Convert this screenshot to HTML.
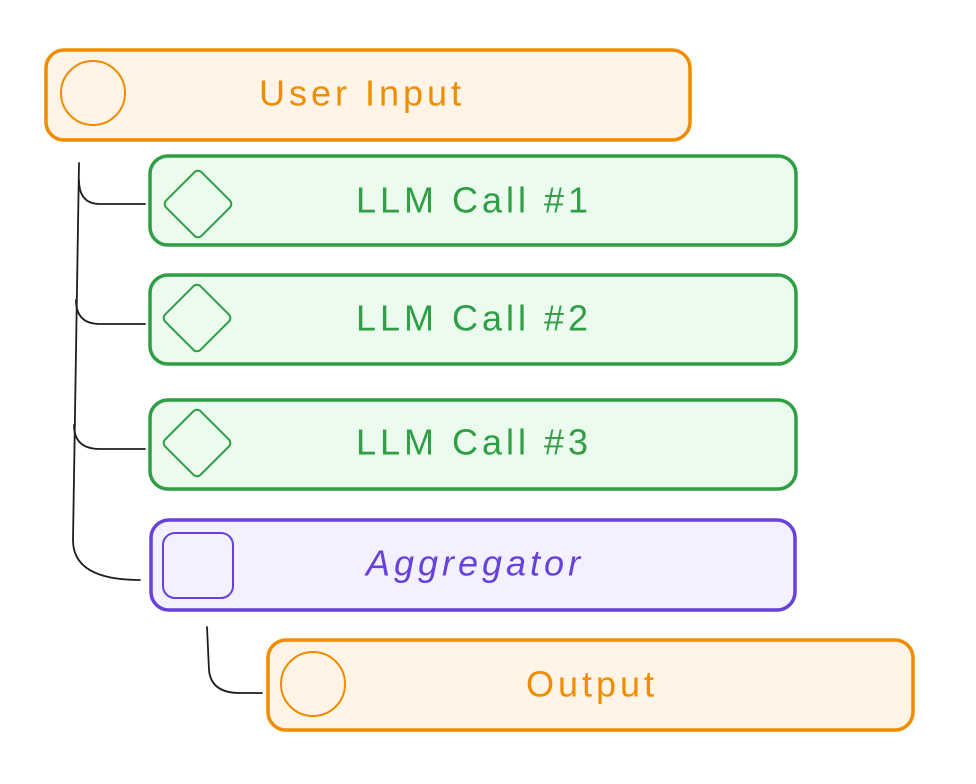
<!DOCTYPE html>
<html><head><meta charset="utf-8"><style>
html,body{margin:0;padding:0;background:#fff;}
svg{display:block;}
text{font-family:"Liberation Sans",sans-serif;font-size:36px;letter-spacing:4px;text-anchor:middle;dominant-baseline:central;}
</style></head><body>
<svg width="976" height="784" viewBox="0 0 976 784">
<g fill="none" stroke="#1e1e1e" stroke-width="1.8" stroke-linecap="round">
<path d="M79 163 L73 540 Q73 580 140 580"/>
<path d="M79 180 Q79 204 100 204 L145 204"/>
<path d="M76 300 Q76 324 100 324 L145 324"/>
<path d="M74 425 Q74 449 100 449 L145 449"/>
<path d="M207 627 L209 670 Q211 693 240 693 L262 693"/>
</g>
<rect x="46" y="50" width="644" height="90" rx="18" fill="#fff4e6" stroke="#f08c00" stroke-width="3.5"/>
<circle cx="93" cy="93" r="32" fill="none" stroke="#f08c00" stroke-width="2"/>
<text x="362" y="93" fill="#f08c00">User Input</text>
<rect x="150" y="156" width="646" height="89" rx="18" fill="#ebfbee" stroke="#2f9e44" stroke-width="3.5"/>
<rect x="173" y="179" width="50" height="50" rx="5" transform="rotate(45 198 204)" fill="none" stroke="#2f9e44" stroke-width="2"/>
<text x="474" y="200" fill="#2f9e44">LLM Call #1</text>
<rect x="150" y="275" width="646" height="89" rx="18" fill="#ebfbee" stroke="#2f9e44" stroke-width="3.5"/>
<rect x="172" y="293" width="50" height="50" rx="5" transform="rotate(45 197 318)" fill="none" stroke="#2f9e44" stroke-width="2"/>
<text x="474" y="318" fill="#2f9e44">LLM Call #2</text>
<rect x="150" y="400" width="646" height="89" rx="18" fill="#ebfbee" stroke="#2f9e44" stroke-width="3.5"/>
<rect x="172" y="418" width="50" height="50" rx="5" transform="rotate(45 197 443)" fill="none" stroke="#2f9e44" stroke-width="2"/>
<text x="474" y="442" fill="#2f9e44">LLM Call #3</text>
<rect x="151" y="520" width="644" height="90" rx="18" fill="#f3f0ff" stroke="#6741d9" stroke-width="3.5"/>
<rect x="163" y="533" width="70" height="65" rx="12" fill="none" stroke="#6741d9" stroke-width="2"/>
<text x="475" y="563" fill="#6741d9" font-style="italic">Aggregator</text>
<rect x="268" y="640" width="645" height="90" rx="18" fill="#fff4e6" stroke="#f08c00" stroke-width="3.5"/>
<circle cx="313" cy="684" r="32" fill="none" stroke="#f08c00" stroke-width="2"/>
<text x="592" y="684" fill="#f08c00">Output</text>
</svg>
</body></html>
